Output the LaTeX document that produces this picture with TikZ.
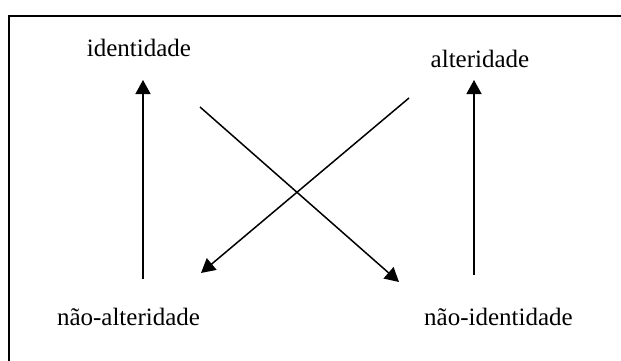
\documentclass[tikz,border=0pt]{standalone}
\usepackage{fontspec}
\setmainfont{Liberation Serif}
\usetikzlibrary{arrows.meta}
\definecolor{ink}{HTML}{000000}
\tikzset{
  term/.style={font=\fontsize{25}{30}\selectfont,text=ink,inner sep=0pt,anchor=base},
  link/.style={ink,line width=1.5pt,-{Triangle[length=14pt,width=15pt]}},
  frame/.style={ink,line width=1.4pt},
}
\begin{document}
\begin{tikzpicture}[x=1pt,y=-1pt]
  \useasboundingbox (0,0) rectangle (621,361);
  \fill[white] (0,0) rectangle (621,361);
  % frame, cut off at right and bottom
  \draw[frame] (9,361) -- (9,16) -- (621,16);
  % the four terms
  \node[term] (iden) at (139,57) {identidade};
  \node[term] (alter) at (480,67) {alteridade};
  \node[term] (nalter) at (128.5,325) {não-alteridade};
  \node[term] (niden) at (498.5,325) {não-identidade};
  % arrow ends
  \coordinate (upA) at (143,279);
  \coordinate (upB) at (143,80);
  \coordinate (upC) at (474,275);
  \coordinate (upD) at (474,80);
  \coordinate (dgA) at (200,107);
  \coordinate (dgB) at (399,282);
  \coordinate (dgC) at (409,98);
  \coordinate (dgD) at (201,273);
  \draw[link] (upA) -- (upB);
  \draw[link] (upC) -- (upD);
  \draw[link] (dgA) -- (dgB);
  \draw[link] (dgC) -- (dgD);
\end{tikzpicture}
\end{document}
